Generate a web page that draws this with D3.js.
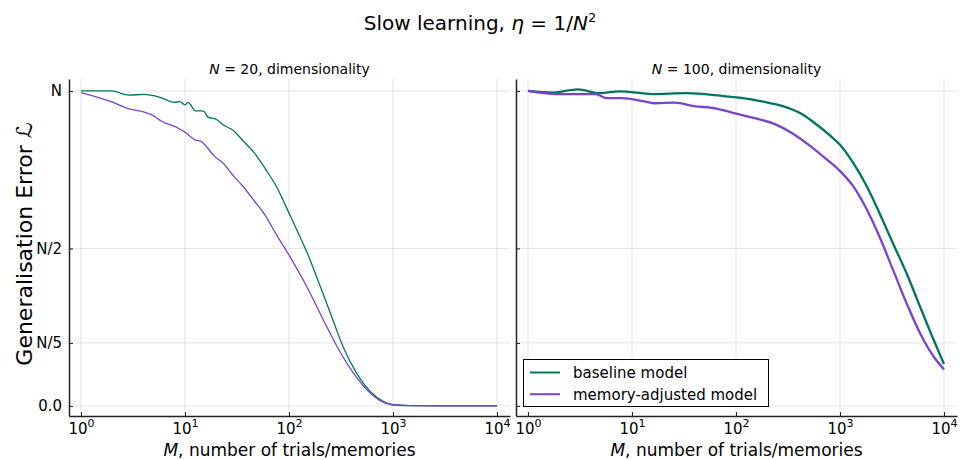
<!DOCTYPE html>
<html><head><meta charset="utf-8">
<script src="https://cdn.jsdelivr.net/npm/d3@7"></script>
<style>body{margin:0;background:#fff}svg text{font-family:"DejaVu Sans",sans-serif;fill:#000}</style>
</head><body><svg id="c" width="960" height="460"></svg>
<script>
// ---- data ----
const xTicks = [1, 10, 100, 1000, 10000];
const xTickExp = ["0", "1", "2", "3", "4"];
const yTicks = [0, 0.2, 0.5, 1];
const yTickLabels = ["0.0", "N/5", "N/2", "N"];
const seriesNames = ["baseline model", "memory-adjusted model"];

// N = 20 panel
const leftBaselineM = [1, 1.95, 2.95, 3.98, 5.75, 7.94, 8.91, 10, 10.7, 12.6, 15.1, 16.6, 20, 23.4, 28.8, 36.3, 46.8, 58.9, 75.9, 102, 123, 155, 200, 257, 331, 447, 603, 813, 1000, 1445, 3162, 10000];
const leftBaselineL = [1.0, 1.0, 0.987, 0.989, 0.98, 0.964, 0.966, 0.956, 0.964, 0.937, 0.936, 0.917, 0.91, 0.892, 0.876, 0.841, 0.802, 0.754, 0.696, 0.606, 0.548, 0.474, 0.379, 0.284, 0.188, 0.104, 0.046, 0.014, 0.004, 0.001, 0, 0];
const leftMemoryM = [1, 1.95, 2.95, 3.98, 4.79, 6.03, 8.71, 10, 12.6, 14.1, 16.6, 18.6, 23.4, 28.8, 36.3, 46.8, 58.9, 75.9, 102, 148, 214, 309, 417, 562, 759, 1000, 1445, 3162, 10000];
const leftMemoryL = [0.995, 0.966, 0.942, 0.934, 0.924, 0.903, 0.881, 0.869, 0.844, 0.841, 0.818, 0.797, 0.770, 0.733, 0.696, 0.649, 0.606, 0.543, 0.474, 0.379, 0.273, 0.172, 0.104, 0.051, 0.016, 0.003, 0.001, 0, 0];

// N = 100 panel
const rightBaselineM = [1, 1.74, 3.02, 4.9, 7.59, 15.8, 33.1, 70.8, 117, 182, 282, 417, 603, 794, 1000, 1349, 1820, 2399, 3236, 4365, 5888, 7943, 10000];
const rightBaselineL = [1.0, 0.995, 1.005, 0.993, 0.999, 0.99, 0.993, 0.985, 0.977, 0.966, 0.952, 0.929, 0.892, 0.860, 0.829, 0.770, 0.696, 0.612, 0.516, 0.421, 0.315, 0.21, 0.133];
const rightMemoryM = [1, 1.86, 2.88, 4.47, 5.75, 7.94, 13.5, 16.6, 25.7, 39.8, 63.1, 97.7, 155, 240, 347, 501, 724, 977, 1349, 1820, 2399, 3236, 4365, 5888, 7943, 10000];
const rightMemoryL = [1.0, 0.99, 0.99, 0.99, 0.977, 0.977, 0.966, 0.961, 0.963, 0.952, 0.945, 0.929, 0.913, 0.894, 0.866, 0.829, 0.786, 0.749, 0.696, 0.622, 0.537, 0.432, 0.326, 0.231, 0.157, 0.116];

// ---- drawing ----
const colors = ["#00755e", "#7a43cc"];
const svg = d3.select("#c");
const xDomain = [Math.pow(10, -0.1154), Math.pow(10, 4.125)];
const y = d3.scaleLinear().domain([-0.032, 1.038]).range([416, 79]);

const panels = [
  {x0: 69, x1: 510, N: "20", showY: true, lw: 1.3,
   series: [[leftBaselineM, leftBaselineL], [leftMemoryM, leftMemoryL]]},
  {x0: 516, x1: 957, N: "100", showY: false, lw: 2.3, legend: true,
   series: [[rightBaselineM, rightBaselineL], [rightMemoryM, rightMemoryL]]}
];

// title
const t = svg.append("text").attr("x", 480).attr("y", 30).attr("text-anchor", "middle").style("font-size", "20px");
t.append("tspan").text("Slow learning, ");
t.append("tspan").style("font-style", "italic").text("η");
t.append("tspan").text(" = 1/");
t.append("tspan").style("font-style", "italic").text("N");
t.append("tspan").attr("dy", -8).style("font-size", "13px").text("2");

// y label
svg.append("text").attr("transform", "translate(32,244) rotate(-90)").attr("text-anchor", "middle")
  .style("font-size", "22px").text("Generalisation Error ℒ");

panels.forEach(p => {
  const x = d3.scaleLog().domain(xDomain).range([p.x0, p.x1]);
  const g = svg.append("g");
  // grid
  g.selectAll(".gx").data(xTicks).join("line")
    .attr("x1", d => x(d)).attr("x2", d => x(d)).attr("y1", 79).attr("y2", 416)
    .attr("stroke", "#000").attr("stroke-opacity", 0.1).attr("stroke-width", 1);
  g.selectAll(".gy").data(yTicks).join("line")
    .attr("x1", p.x0).attr("x2", p.x1).attr("y1", d => y(d)).attr("y2", d => y(d))
    .attr("stroke", "#000").attr("stroke-opacity", 0.1).attr("stroke-width", 1);

  // x axis
  const ax = g.append("g").attr("transform", "translate(0,416)")
    .call(d3.axisBottom(x).tickValues(xTicks).tickSize(-4).tickSizeOuter(0).tickFormat(() => ""));
  ax.select(".domain").attr("stroke", "#222").attr("stroke-width", 1.5);
  ax.selectAll(".tick line").attr("stroke", "#222");
  ax.selectAll(".tick").each(function(d, i) {
    const tx = d3.select(this).append("text").attr("y", 18).attr("text-anchor", "middle")
      .attr("fill", "#000").style("font-size", "15px").style("font-family", "DejaVu Sans");
    tx.append("tspan").text("10");
    tx.append("tspan").attr("dy", -7).style("font-size", "11px").text(xTickExp[i]);
  });

  // y axis
  const ay = g.append("g").attr("transform", `translate(${p.x0},0)`)
    .call(d3.axisLeft(y).tickValues(yTicks).tickSize(-4).tickSizeOuter(0).tickPadding(7)
      .tickFormat((d, i) => p.showY ? yTickLabels[i] : ""));
  ay.select(".domain").attr("stroke", "#222").attr("stroke-width", 1.5);
  ay.selectAll(".tick line").attr("stroke", "#222");
  ay.selectAll(".tick text").style("font-size", "15px").style("font-family", "DejaVu Sans").attr("fill", "#000");

  // subplot title
  const st = svg.append("text").attr("x", (p.x0 + p.x1) / 2).attr("y", 74).attr("text-anchor", "middle").style("font-size", "14px");
  st.append("tspan").style("font-style", "italic").text("N");
  st.append("tspan").text(" = " + p.N + ", dimensionality");

  // x label
  const xl = svg.append("text").attr("x", (p.x0 + p.x1) / 2).attr("y", 456).attr("text-anchor", "middle").style("font-size", "17px");
  xl.append("tspan").style("font-style", "italic").text("M");
  xl.append("tspan").text(", number of trials/memories");

  // lines
  const line = d3.line().x(d => x(d[0])).y(d => y(d[1])).curve(d3.curveMonotoneX);
  p.series.forEach((s, k) => {
    const pts = s[0].map((m, i) => [m, s[1][i]]);
    g.append("path").datum(pts).attr("d", line).attr("fill", "none")
      .attr("stroke", colors[k]).attr("stroke-width", p.lw).attr("stroke-linejoin", "round");
  });

  if (p.legend) {
    const lg = svg.append("g");
    lg.append("rect").attr("x", 523.5).attr("y", 359.5).attr("width", 245).attr("height", 47)
      .attr("fill", "#fff").attr("stroke", "#000").attr("stroke-width", 1);
    seriesNames.forEach((nm, k) => {
      const yy = 372.5 + k * 21.7;
      lg.append("line").attr("x1", 530).attr("x2", 560).attr("y1", yy).attr("y2", yy)
        .attr("stroke", colors[k]).attr("stroke-width", 2);
      lg.append("text").attr("x", 573).attr("y", yy + 5.5).style("font-size", "15px").text(nm);
    });
  }
});
</script></body></html>
